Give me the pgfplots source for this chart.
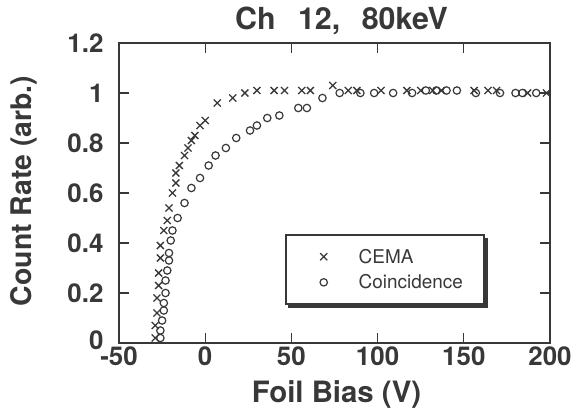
\documentclass[border=0pt]{standalone}
\usepackage{pgfplots}
\pgfplotsset{compat=1.18}
\usepackage{fontspec}
\setmainfont{TeX Gyre Heros}
\definecolor{fg}{gray}{0.22}
\begin{document}
\begin{tikzpicture}
\begin{axis}[
  scale only axis, width=431bp, height=300bp,
  xmin=-50, xmax=200, ymin=0, ymax=1.2,
  xtick={-50,0,50,100,150,200}, xticklabels={-50,0,50,100,150,200},
  ytick={0.2,0.4,0.6,0.8,1,1.2}, yticklabels={0.2,0.4,0.6,0.8,1,1.2},
  extra y ticks={0}, extra y tick labels={0},
  extra y tick style={yticklabel style={yshift=3bp}},
  tick align=inside, major tick length=10bp,
  axis line style={line width=2.6bp, draw=fg},
  every tick/.style={line width=1.1bp, draw=fg},
  tick label style={font=\fontsize{26}{26}\selectfont\bfseries, text=fg},
  yticklabel style={xshift=-12bp},
  title={Ch\hspace{14bp} 12,\hspace{13bp} 80keV},
  title style={at={(axis description cs:0.5,1)}, anchor=base, yshift=8bp, xshift=7bp,
    font=\fontsize{30.5}{30.5}\selectfont\bfseries, text=fg},
  xlabel={Foil Bias (V)},
  xlabel style={at={(axis description cs:0.5,0)}, anchor=base, yshift=-59bp, xshift=2bp,
    font=\fontsize{29.5}{29.5}\selectfont\bfseries, text=fg},
  ylabel={Count Rate (arb.)},
  ylabel style={at={(axis description cs:0,0.5)}, anchor=center, yshift=95bp, xshift=2bp,
    font=\fontsize{28.5}{28.5}\selectfont\bfseries, text=fg},
  legend style={name=leg, at={(axis description cs:0.385,0.363)}, anchor=north west,
    draw=fg, line width=1.6bp, fill=white,
    font=\fontsize{19}{22}\selectfont, text=fg,
    inner xsep=18bp, inner ysep=11bp, row sep=4bp, nodes={inner sep=3bp}},
  legend cell align=left,
  legend image code/.code={\path[draw=none,fill=none] (0,-0.1cm) rectangle (52bp,0.1cm);
    \draw[#1] plot coordinates {(20bp,0cm)};},
]
\addplot[only marks, mark=x, mark size=5bp, line width=1.3bp, draw=fg] coordinates {
(-29,0.02)(-29,0.07)(-28,0.12)(-28,0.18)(-27,0.23)(-27,0.28)(-26,0.34)(-26,0.39)
(-24,0.45)(-22,0.49)(-21,0.54)(-19,0.60)(-17,0.64)(-17,0.68)(-15,0.71)(-12,0.75)
(-10,0.78)(-8,0.81)(-6,0.83)(-3,0.87)(0,0.89)(7,0.96)(16,0.98)(23,1.0)(30,1.01)
(40,1.01)(46,1.01)(56,1.01)(61,1.01)(74,1.03)(83,1.01)(88,1.01)(102,1.01)(117,1.01)
(125,1.01)(132,1.01)(137,1.01)(156,1.01)(164,1.01)(169,1.01)(187,1.0)(198,1.0)
};
\addlegendentry{CEMA}
\addplot[only marks, mark=o, mark size=3.7bp, line width=1.2bp, draw=fg] coordinates {
(-26,0.02)(-26,0.05)(-25,0.09)(-24,0.13)(-24,0.16)(-23,0.20)(-23,0.25)(-22,0.29)
(-21,0.33)(-21,0.36)(-20,0.41)(-19,0.45)(-16,0.50)(-12,0.56)(-8,0.62)(-3,0.66)
(2,0.71)(6,0.75)(12,0.78)(18,0.82)(26,0.85)(30,0.87)(36,0.90)(43,0.91)(54,0.94)
(59,0.94)(68,0.98)(78,1.0)(90,1.0)(98,1.0)(109,1.0)(120,1.0)(128,1.01)(134,1.01)
(140,1.01)(146,1.01)(157,1.0)(171,1.0)(180,1.0)(184,1.0)(192,1.0)
};
\addlegendentry{Coincidence}
\end{axis}
\fill[fg] ([yshift=-3.5bp]leg.north east) rectangle ([xshift=3.5bp,yshift=-3.5bp]leg.south east);
\fill[fg] ([xshift=3.5bp]leg.south west) rectangle ([xshift=3.5bp,yshift=-3.5bp]leg.south east);
\pgfresetboundingbox
\path[use as bounding box] (current axis.south west) ++(-119bp,-69bp) rectangle ++(583bp,412bp);
\end{tikzpicture}
\end{document}
